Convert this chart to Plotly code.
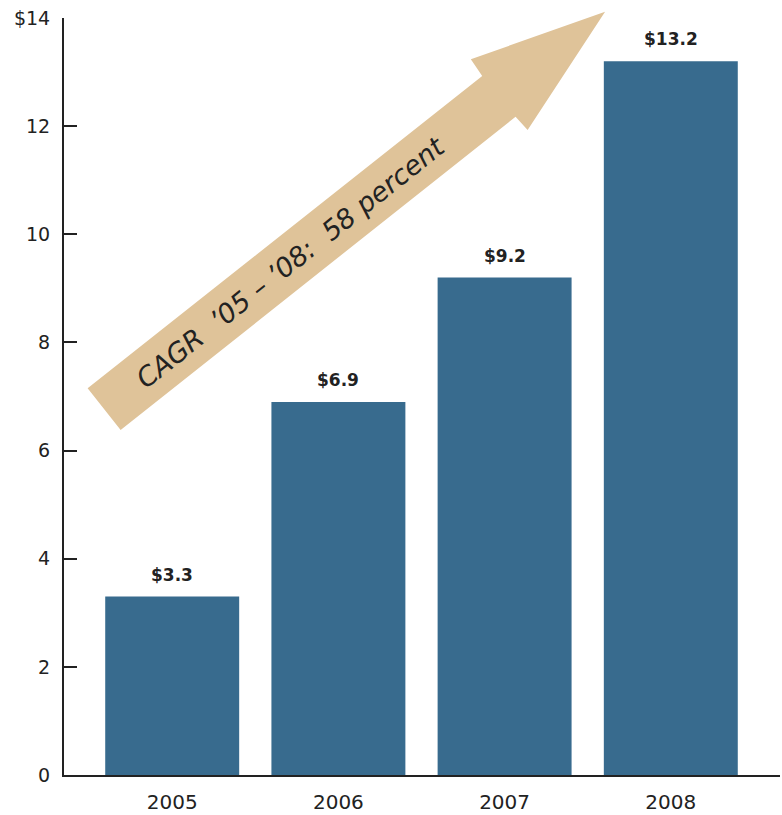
import plotly.graph_objects as go

years = ["2005", "2006", "2007", "2008"]
revenue = [3.3, 6.9, 9.2, 13.2]
bar_labels = ["$3.3", "$6.9", "$9.2", "$13.2"]
y_tickvals = [0, 2, 4, 6, 8, 10, 12, 14]
y_ticktext = ["0", "2", "4", "6", "8", "10", "12", "$14"]
arrow_text = "CAGR  \u201905 \u2013 \u201908:  58 percent"

BAR = "#386b8e"
ARROW = "#dfc399"
INK = "#222222"
FONT = "DejaVu Sans"

xpos = list(range(len(years)))

fig = go.Figure()
fig.add_trace(go.Bar(
    x=xpos, y=revenue, marker=dict(color=BAR, line=dict(width=0)),
    width=0.806, hoverinfo="skip", showlegend=False,
))

for i, v, lab in zip(xpos, revenue, bar_labels):
    fig.add_annotation(
        x=i, y=v, xref="x", yref="y", text=lab,
        showarrow=False, yanchor="bottom", yshift=10,
        font=dict(family=FONT, size=17, color=INK, weight="bold"),
    )

# decorative growth arrow (paper coordinates)
pts = [(0.0330, 0.5108), (0.0791, 0.4557), (0.6307, 0.8696), (0.6475, 0.8520),
       (0.7557, 1.0083), (0.5682, 0.9455), (0.5841, 0.9234)]
path = "M " + " L ".join(f"{x},{y}" for x, y in pts) + " Z"
fig.add_shape(type="path", path=path, xref="paper", yref="paper",
              fillcolor=ARROW, line=dict(width=0), layer="above")

fig.add_annotation(
    x=0.316, y=0.677, xref="paper", yref="paper", text=arrow_text,
    showarrow=False, textangle=-38.5, xanchor="center", yanchor="middle",
    font=dict(family=FONT, size=27, color=INK, style="italic"),
)

fig.update_layout(
    width=782, height=815,
    margin=dict(l=64, r=2, t=18, b=40, autoexpand=False),
    paper_bgcolor="white", plot_bgcolor="white",
    font=dict(family=FONT, size=19, color=INK),
)
fig.update_xaxes(
    type="linear", range=[-0.651, 3.657], tickvals=xpos, ticktext=years,
    showline=True, linewidth=2, linecolor=INK, automargin=False,
    showgrid=False, zeroline=False, ticks="", ticklabelstandoff=8,
    tickfont=dict(family=FONT, size=20, color=INK), fixedrange=True,
)
fig.update_yaxes(
    range=[0, 14], tickvals=y_tickvals, ticktext=y_ticktext, automargin=False,
    showline=True, linewidth=2, linecolor=INK, showgrid=False, zeroline=False,
    ticks="inside", ticklen=13, tickwidth=2, tickcolor=INK, ticklabelstandoff=8,
    tickfont=dict(family=FONT, size=19, color=INK), fixedrange=True,
)

fig.write_html(
    "out.html",
    config={"displayModeBar": False},
    post_script="document.body.style.margin='0';document.body.style.overflow='hidden';",
)
